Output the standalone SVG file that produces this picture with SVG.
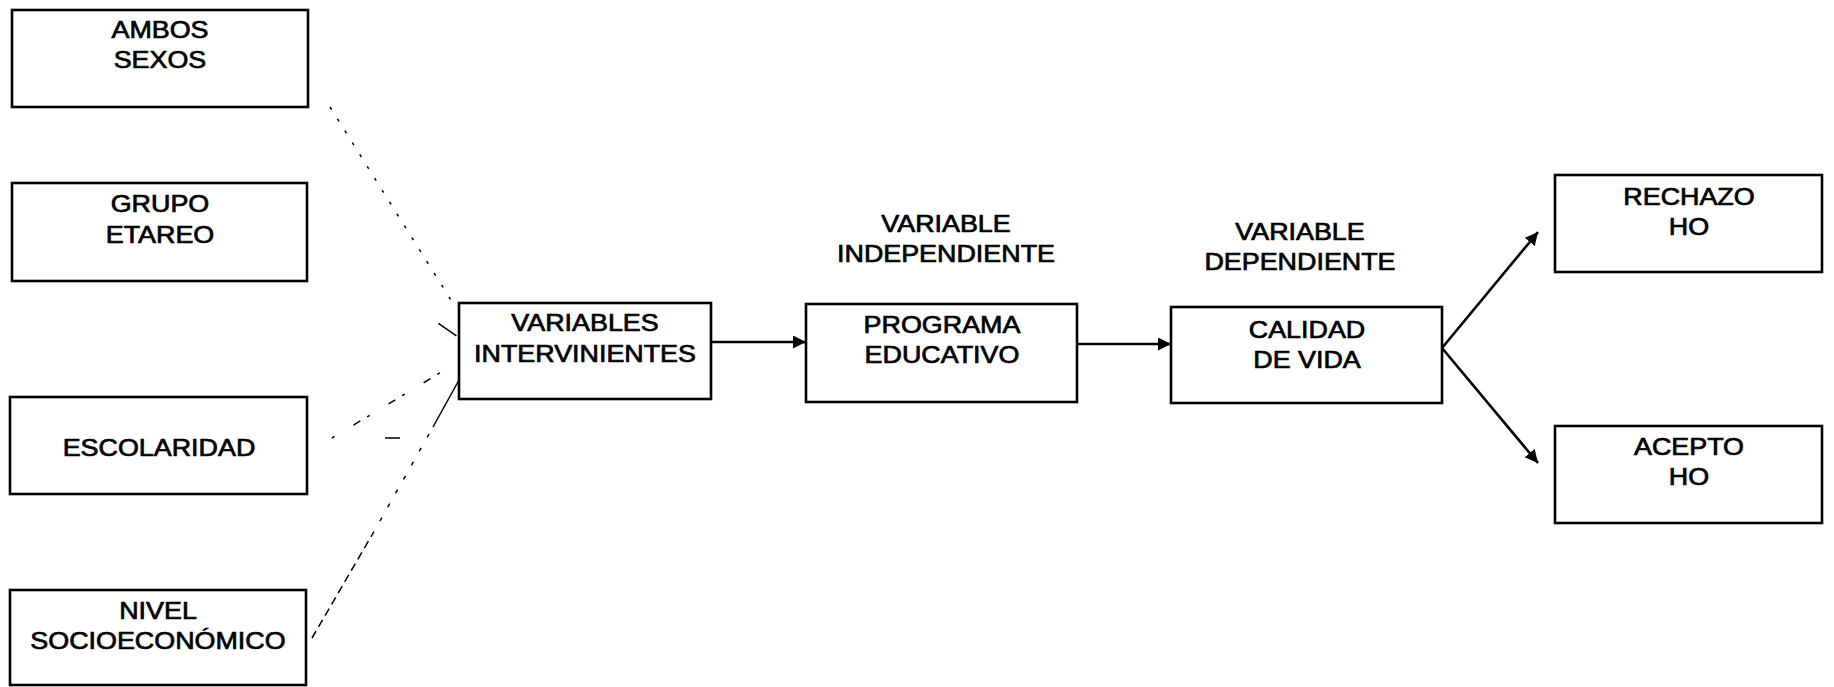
<svg xmlns="http://www.w3.org/2000/svg" width="1834" height="687" viewBox="0 0 1834 687">
<style>
.box{fill:#fff;stroke:#000;stroke-width:2.6}
.t{font-family:"Liberation Sans",Arial,sans-serif;font-size:24px;fill:#000;stroke:#000;stroke-width:0.7;text-anchor:middle;transform-box:fill-box;transform-origin:center;transform:scaleX(1.12)}
.arr{stroke:#000;stroke-width:2.6;fill:none;marker-end:url(#ah)}
.dl{stroke:#000;stroke-width:1.5;fill:none}
</style>
<defs>
<marker id="ah" markerUnits="userSpaceOnUse" markerWidth="15" markerHeight="14" refX="13" refY="6.5" orient="auto">
<path d="M0,0 L13,6.5 L0,13 z" fill="#000"/>
</marker>
</defs>
<rect width="1834" height="687" fill="#fff"/>
<g id="connectors">
<line class="dl" x1="330" y1="107" x2="456" y2="308" stroke-dasharray="3 11"/>
<line class="dl" x1="307" y1="232" x2="458" y2="337" stroke-dasharray="0 160 22 0"/>
<line class="dl" x1="332" y1="438" x2="458" y2="362" stroke-dasharray="3 22 0 0 8 8"/>
<line class="dl" x1="385" y1="438" x2="400" y2="438"/>
<line class="dl" x1="312" y1="638" x2="372" y2="535" stroke-dasharray="8 5"/>
<line class="dl" x1="372" y1="535" x2="433" y2="427" stroke-dasharray="4 12"/>
<line class="dl" x1="433" y1="427" x2="459" y2="380" stroke-width="1.7"/>
<line class="arr" x1="711" y1="342" x2="806" y2="342"/>
<line class="arr" x1="1077" y1="344" x2="1171" y2="344"/>
<line class="arr" x1="1442" y1="348" x2="1538" y2="232"/>
<line class="arr" x1="1442" y1="348" x2="1538" y2="463"/>
</g>
<g id="ambos">
<rect class="box" x="12" y="10" width="296" height="97"/>
<text class="t" x="160" y="38">AMBOS</text>
<text class="t" x="160" y="68">SEXOS</text>
</g>
<g id="grupo">
<rect class="box" x="12" y="183" width="295" height="98"/>
<text class="t" x="160" y="212">GRUPO</text>
<text class="t" x="160" y="243">ETAREO</text>
</g>
<g id="escolaridad">
<rect class="box" x="10" y="397" width="297" height="97"/>
<text class="t" x="159" y="456">ESCOLARIDAD</text>
</g>
<g id="nivel">
<rect class="box" x="10" y="590" width="296" height="95"/>
<text class="t" x="158" y="619">NIVEL</text>
<text class="t" x="158" y="649">SOCIOECONÓMICO</text>
</g>
<g id="intervinientes">
<rect class="box" x="459" y="303" width="252" height="96"/>
<text class="t" x="585" y="331">VARIABLES</text>
<text class="t" x="585" y="362">INTERVINIENTES</text>
</g>
<g id="independiente">
<text class="t" x="946" y="232">VARIABLE</text>
<text class="t" x="946" y="262">INDEPENDIENTE</text>
</g>
<g id="programa">
<rect class="box" x="806" y="304" width="271" height="98"/>
<text class="t" x="942" y="333">PROGRAMA</text>
<text class="t" x="942" y="363">EDUCATIVO</text>
</g>
<g id="dependiente">
<text class="t" x="1300" y="240">VARIABLE</text>
<text class="t" x="1300" y="270">DEPENDIENTE</text>
</g>
<g id="calidad">
<rect class="box" x="1171" y="307" width="271" height="96"/>
<text class="t" x="1307" y="338">CALIDAD</text>
<text class="t" x="1307" y="368">DE VIDA</text>
</g>
<g id="rechazo">
<rect class="box" x="1555" y="175" width="267" height="97"/>
<text class="t" x="1689" y="205">RECHAZO</text>
<text class="t" x="1689" y="235">HO</text>
</g>
<g id="acepto">
<rect class="box" x="1555" y="426" width="267" height="97"/>
<text class="t" x="1689" y="455">ACEPTO</text>
<text class="t" x="1689" y="485">HO</text>
</g>
</svg>
